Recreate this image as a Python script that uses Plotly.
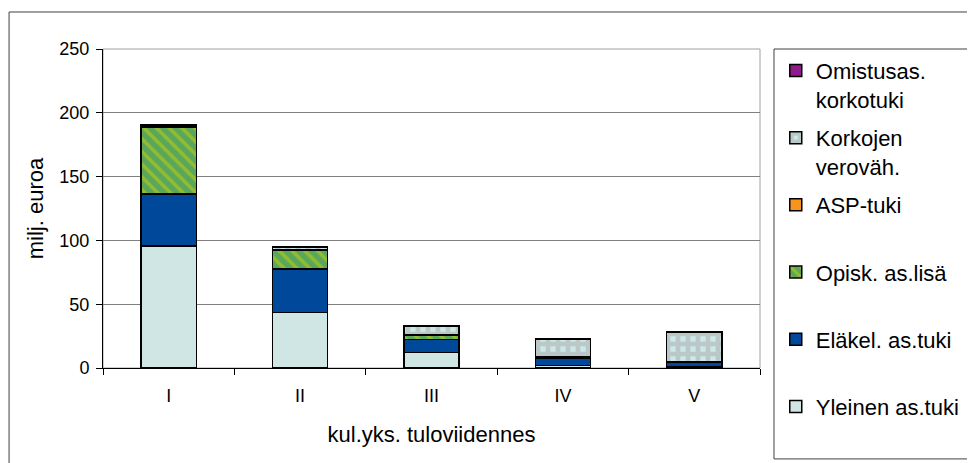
import plotly.graph_objects as go

kvintiilit = ["I", "II", "III", "IV", "V"]

yleinen = [95.5, 43.5, 12.0, 1.8, 1.0]
elakel = [41.0, 34.0, 10.5, 6.0, 3.5]
opisk = [52.0, 14.5, 3.0, 0.5, 0.2]
asp = [0.5, 0.5, 0.5, 0.5, 0.3]
korkojen = [1.5, 2.5, 6.5, 14.0, 23.0]
omistus = [0.3, 0.3, 0.3, 0.5, 0.5]

y_ticks = [0, 50, 100, 150, 200, 250]

fig = go.Figure()

sarjat = [
    ("Yleinen as.tuki<br> ", yleinen, "#CFE6E4", None),
    ("Eläkel. as.tuki<br> ", elakel, "#00489A", None),
    ("Opisk. as.lisä<br> ", opisk, "#5AA65C", dict(shape="\\", fgcolor="#C8D400", bgcolor="#5AA65C", size=9, solidity=0.4)),
    ("ASP-tuki<br> ", asp, "#F7941D", None),
    ("Korkojen<br>veroväh.", korkojen, "#CDE8E8", dict(shape="+", fgcolor="#A8A8A8", bgcolor="#CDE8E8", size=10, solidity=0.72)),
    ("Omistusas.<br>korkotuki", omistus, "#8E1A8C", None),
]

for i, (nimi, arvot, vari, kuvio) in enumerate(sarjat):
    marker = dict(color=vari, line=dict(color="black", width=1.5))
    if kuvio:
        marker["pattern"] = kuvio
    fig.add_trace(go.Bar(
        name=nimi, x=kvintiilit, y=arvot,
        marker=marker, legendgroup=str(i), legendrank=100 - i))

fig.update_layout(
    barmode="stack",
    bargap=0.58,
    width=975, height=463,
    margin=dict(l=95, r=223, t=41, b=103),
    paper_bgcolor="white",
    plot_bgcolor="white",
    font=dict(family="Liberation Sans, Arial", size=18, color="black"),
    legend=dict(
        x=1.024, y=0.998, xanchor="left", yanchor="top",
        traceorder="grouped",
        tracegroupgap=7,
        valign="top",
        maxheight=450,
        font=dict(size=22),
        bgcolor="rgba(0,0,0,0)",
        borderwidth=0),
    showlegend=True,
)

fig.update_xaxes(
    automargin=False,
    showline=True, linecolor="black", linewidth=1,
    ticks="outside", tickson="boundaries", ticklen=6, tickcolor="black",
    ticklabelstandoff=11,
    title=dict(text="kul.yks. tuloviidennes", standoff=22))

fig.update_yaxes(
    automargin=False,
    range=[0, 250], tickvals=y_ticks,
    showline=True, linecolor="black", linewidth=1,
    ticks="outside", ticklen=6, tickcolor="black",
    ticklabelstandoff=3,
    showgrid=True, gridcolor="#808080", gridwidth=1,
    zeroline=False,
    title=dict(text="milj. euroa", standoff=9))

# kuva-alueen kehys
fig.add_shape(type="rect", xref="x domain", yref="y domain",
              x0=0, y0=0, x1=1, y1=1, line=dict(color="#A0A0A0", width=1), layer="below")
# selitteen laatikko
fig.add_shape(type="rect", xref="paper", yref="paper",
              x0=1.0213, y0=-0.285, x1=1.330, y1=1.0, line=dict(color="#404040", width=1))
# ulkokehys
fig.add_shape(type="rect", xref="paper", yref="paper",
              x0=-0.143, y0=-0.35, x1=1.36, y1=1.116, line=dict(color="#404040", width=1))

fig.write_html("out.html")
